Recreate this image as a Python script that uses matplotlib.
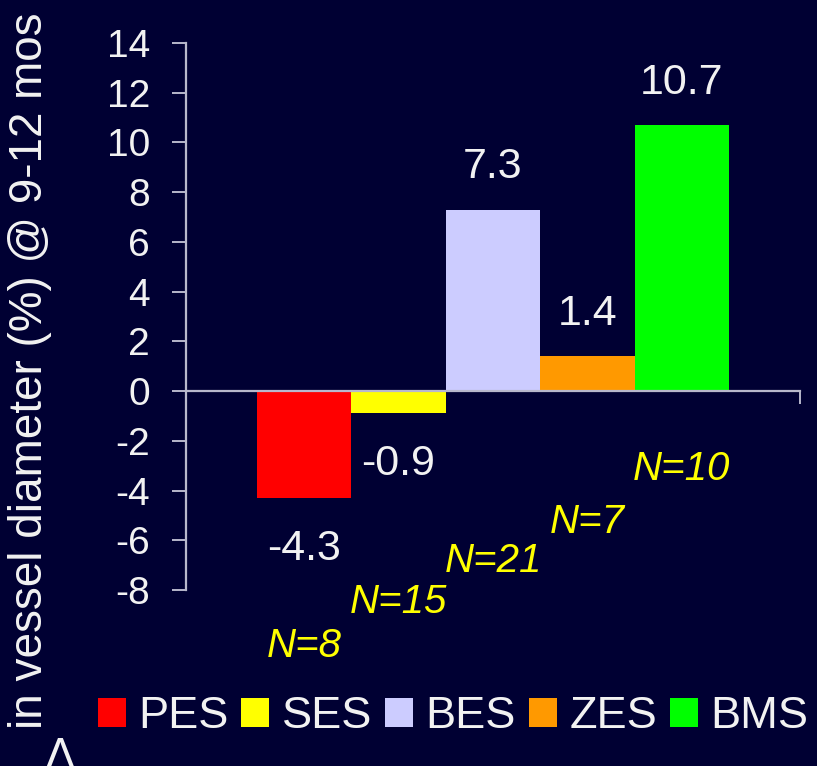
import matplotlib
matplotlib.use("Agg")
import matplotlib.pyplot as plt
from matplotlib.patches import Patch

# Stent types, change in vessel diameter and group sizes
stents = ["PES", "SES", "BES", "ZES", "BMS"]
delta_diam = [-4.3, -0.9, 7.3, 1.4, 10.7]
n_patients = [8, 15, 21, 7, 10]
bar_colors = ["#ff0000", "#ffff00", "#ccccff", "#ff9900", "#00ff00"]
y_ticks = list(range(-8, 15, 2))
n_label_y = [-10.25, -8.5, -6.85, -5.25, -3.15]

BG = "#000033"
FG = "#f2f2f2"
AXC = "#b8b8cc"

plt.rcParams["font.family"] = ["Liberation Sans", "DejaVu Sans"]

fig = plt.figure(figsize=(8.17, 7.66), dpi=100, facecolor=BG)
ax = fig.add_axes([186 / 817, 1 - 590 / 766, (800 - 186) / 817, (590 - 43) / 766])
ax.set_facecolor(BG)

x = list(range(len(stents)))
ax.bar(x, delta_diam, width=1.0, color=bar_colors, edgecolor="none", zorder=2)

ax.set_xlim(-1.25, 5.25)
ax.set_ylim(-8, 14)
ax.set_yticks(y_ticks)
ax.set_yticklabels([str(t) for t in y_ticks])

for side in ("top", "right"):
    ax.spines[side].set_visible(False)
ax.spines["left"].set_color(AXC)
ax.spines["left"].set_linewidth(1.6)
ax.spines["bottom"].set_position(("data", 0))
ax.spines["bottom"].set_color(AXC)
ax.spines["bottom"].set_linewidth(1.6)
ax.spines["bottom"].set_zorder(3)

ax.tick_params(axis="y", direction="out", length=10, width=1.4, color=AXC,
               labelcolor=FG, labelsize=28, pad=16)
ax.set_xticks([-1.25, 5.25])
ax.set_xticklabels([])
ax.tick_params(axis="x", direction="out", length=9, width=1.4, color=AXC)

# value labels on each bar
for xi, v in zip(x, delta_diam):
    if v >= 0:
        ax.annotate(f"{v:.1f}", (xi, v), xytext=(0, 16), textcoords="offset points",
                    ha="center", va="bottom", color=FG, fontsize=31)
    else:
        ax.annotate(f"{v:.1f}", (xi, v), xytext=(0, -22), textcoords="offset points",
                    ha="center", va="top", color=FG, fontsize=31)

# group sizes
for xi, n, yy in zip(x, n_patients, n_label_y):
    ax.text(xi, yy, f"N={n}", ha="center", va="center", color="#ffff00",
            fontsize=29, style="italic", clip_on=False)

fig.text(30 / 817, 1 - 371 / 766, "in vessel diameter (%) @ 9-12 mos",
         rotation=90, ha="center", va="center", color=FG, fontsize=33)
fig.text(60 / 817, 1 - 736 / 766, "Δ", ha="center", va="top", color=FG, fontsize=33)

handles = [Patch(facecolor=c, edgecolor="none", label=s) for s, c in zip(stents, bar_colors)]
leg = fig.legend(handles=handles, loc="center", bbox_to_anchor=(453 / 817, 1 - 717 / 766),
                 ncol=5, frameon=False, fontsize=32.5, handlelength=0.62, handleheight=0.62,
                 handletextpad=0.28, columnspacing=0.28, borderpad=0, borderaxespad=0)
for t in leg.get_texts():
    t.set_color(FG)

fig.savefig("out.png", dpi=100, facecolor=BG)
